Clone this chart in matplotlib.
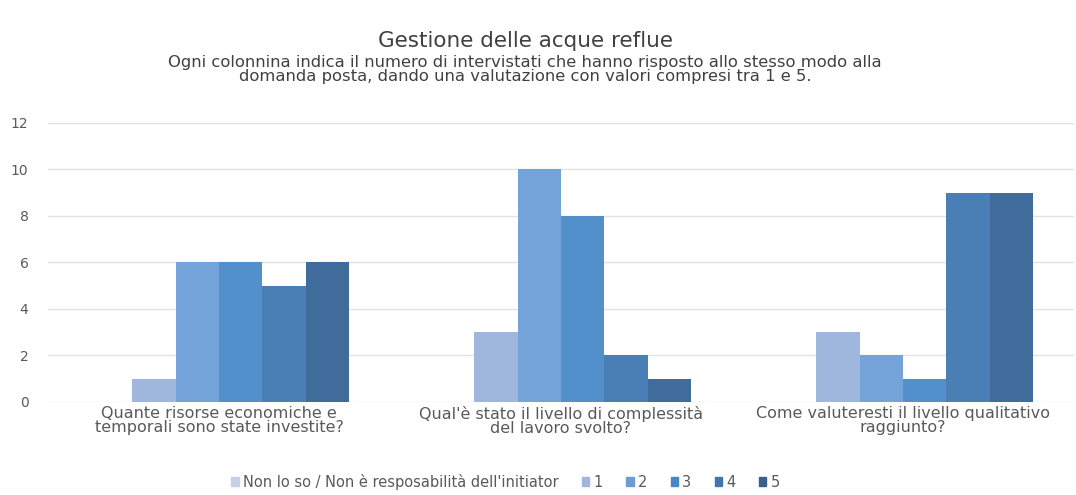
import matplotlib.pyplot as plt
import numpy as np

plt.rcParams['font.family'] = ['DejaVu Sans']

categories = [
    'Quante risorse economiche e\ntemporali sono state investite?',
    "Qual'è stato il livello di complessità\ndel lavoro svolto?",
    'Come valuteresti il livello qualitativo\nraggiunto?',
]
series_names = ["Non lo so / Non è resposabilità dell'initiator", '1', '2', '3', '4', '5']
values = [
    [0, 0, 0],    # Non lo so
    [1, 3, 3],    # 1
    [6, 10, 2],   # 2
    [6, 8, 1],    # 3
    [5, 2, 9],    # 4
    [6, 1, 9],    # 5
]
colors = ['#c3cee4', '#9fb6dd', '#74a3da', '#5190cb', '#4a7fb6', '#3f6c9b']
legend_colors = ['#c5d0e6', '#a4b5dc', '#6f9bd4', '#4a87c6', '#3f76b0', '#395f8f']

text_color = '#595959'

fig = plt.figure(figsize=(10.76, 4.95), dpi=100)
ax = fig.add_axes([0.0446, 0.188, 0.9535, 0.5636])

x = np.arange(len(categories))
width = 0.127
n = len(series_names)
for i, (name, vals) in enumerate(zip(series_names, values)):
    offset = (i - (n - 1) / 2) * width
    ax.bar(x + offset, vals, width, color=colors[i], label=name, zorder=3)

ax.set_xlim(-0.5, 2.5)
ax.set_ylim(0, 12)
ax.set_yticks(range(0, 13, 2))
ax.set_xticks(x)
ax.set_xticklabels(categories, fontsize=11.5, color=text_color, linespacing=0.9)
ax.tick_params(axis='both', length=0, colors=text_color, labelsize=10)
ax.tick_params(axis='x', labelsize=11.5, pad=3)
ax.tick_params(axis='y', pad=14)
ax.grid(axis='y', color='#e3e3e3', linewidth=1, zorder=0)
for s in ax.spines.values():
    s.set_visible(False)

fig.text(0.488, 0.918, 'Gestione delle acque reflue', ha='center', va='center',
         fontsize=15.5, color='#404040')
fig.text(0.488, 0.860, 'Ogni colonnina indica il numero di intervistati che hanno risposto allo stesso modo alla\n'
         'domanda posta, dando una valutazione con valori compresi tra 1 e 5.',
         ha='center', va='center', fontsize=11.8, color='#404040', linespacing=0.92)

handles = [plt.Rectangle((0, 0), 1, 1, color=c) for c in legend_colors]
fig.legend(handles, series_names, loc='center', bbox_to_anchor=(0.47, 0.027), ncol=6,
           frameon=False, fontsize=10.5, handlelength=0.5, handleheight=0.5,
           handletextpad=0.3, columnspacing=1.6, labelcolor=text_color)

fig.savefig('out.png', dpi=100)
